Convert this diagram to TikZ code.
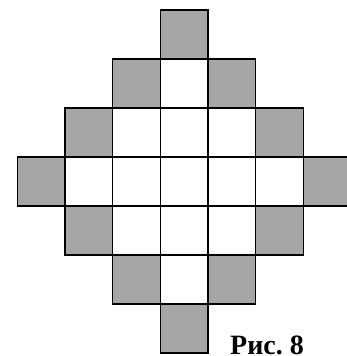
\documentclass[tikz,border=0pt]{standalone}
\usepackage{fontspec}
\setmainfont{Liberation Serif}
\definecolor{shade}{RGB}{166,166,166}

\begin{document}
\begin{tikzpicture}[
    x=1pt, y=-1pt,
    cell/.style={
        draw=black,
        line width=1.3pt,
        inner sep=0pt,
        minimum width=47.7pt,
        minimum height=49pt,
        anchor=north west
    },
    rimcell/.style={cell, fill=shade},
    corecell/.style={cell, fill=white},
    caption/.style={
        font=\bfseries\fontsize{28}{28}\selectfont,
        anchor=base west,
        inner sep=0pt
    }
]
\useasboundingbox (0,0) rectangle (346,356);

% --- Diamond of cells ------------------------------------------------------
\foreach \r in {0,...,6}{
    \foreach \c in {0,...,6}{
        \pgfmathtruncatemacro{\dist}{abs(\r-3)+abs(\c-3)}
        \ifnum\dist<3
            \node[corecell] (cell-\r-\c) at (16.5+47.7*\c, 9.3+49*\r) {};
        \else\ifnum\dist=3
            \node[rimcell] (cell-\r-\c) at (16.5+47.7*\c, 9.3+49*\r) {};
        \fi\fi
    }
}

% --- Caption ---------------------------------------------------------------
\node[caption] (fig) at (230,354.5) {Рис.~8};

\end{tikzpicture}
\end{document}
